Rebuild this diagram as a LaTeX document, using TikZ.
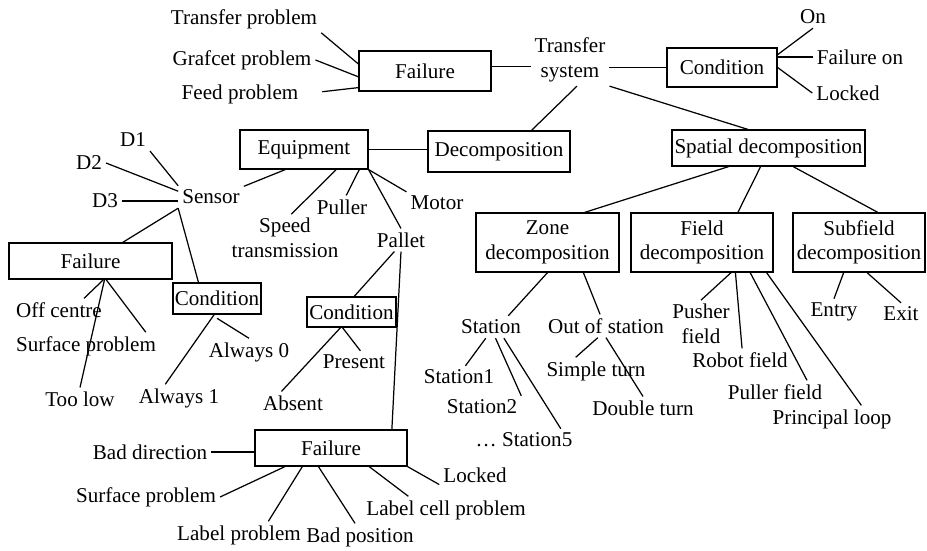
\documentclass[tikz,border=0pt]{standalone}
\usepackage{fontspec}
\setmainfont{Liberation Serif}
\begin{document}
\begin{tikzpicture}[x=0.02cm, y=-0.02cm, line width=0.7pt,
    font=\fontsize{12}{14}\selectfont,
    box/.style={draw, align=center, inner sep=1pt},
    lbl/.style={align=center, inner sep=2pt}]
  \useasboundingbox (0,0) rectangle (927,551);

  % transfer system and its two neighbours
  \node[lbl]  (ts)     at (570, 60)   {Transfer\\system};
  \node[box, minimum width=2.64cm, minimum height=0.80cm] (failT)   at (425, 71)   {Failure};
  \node[box, minimum width=2.20cm, minimum height=0.78cm] (condT)   at (722, 67.5) {Condition};
  \node[lbl]  (tp)     at (244, 19)   {Transfer problem};
  \node[lbl]  (gp)     at (242, 60)   {Grafcet problem};
  \node[lbl]  (fp)     at (240, 94)   {Feed problem};
  \node[lbl]  (on)     at (813, 17)   {On};
  \node[lbl]  (fon)    at (860, 57)   {Failure on};
  \node[lbl]  (lockT)  at (848, 93)   {Locked};

  % equipment branch
  \node[box, minimum width=2.84cm, minimum height=0.82cm] (decomp)  at (499, 151.5) {Decomposition};
  \node[box, minimum width=2.56cm, minimum height=0.78cm] (equip)   at (304, 149.5) {Equipment};
  \node[lbl]  (sensor) at (211, 197)  {Sensor};
  \node[lbl]  (d1)     at (133, 140)  {D1};
  \node[lbl]  (d2)     at ( 89, 163)  {D2};
  \node[lbl]  (d3)     at (105, 201)  {D3};
  \node[lbl]  (speed)  at (285, 238)  {Speed\\transmission};
  \node[lbl]  (puller) at (342, 207)  {Puller};
  \node[lbl]  (motor)  at (437, 203)  {Motor};
  \node[lbl]  (pallet) at (401, 240)  {Pallet};

  \node[box, minimum width=3.26cm, minimum height=0.72cm] (failL)   at ( 90.5, 261)  {Failure};
  \node[box, minimum width=1.76cm, minimum height=0.62cm] (condL)   at (217, 298.5)  {Condition};
  \node[lbl]  (offc)   at ( 59, 310)  {Off centre};
  \node[lbl]  (surfL)  at ( 86, 346)  {Surface problem};
  \node[lbl]  (toolow) at ( 80, 399)  {Too low};
  \node[lbl]  (alw0)   at (249, 352)  {Always 0};
  \node[lbl]  (alw1)   at (179, 398)  {Always 1};

  \node[box, minimum width=1.78cm, minimum height=0.60cm] (condM)   at (351.5, 312) {Condition};
  \node[lbl]  (present) at (354, 362) {Present};
  \node[lbl]  (absent)  at (293, 403) {Absent};

  \node[box, minimum width=3.04cm, minimum height=0.72cm] (failB)   at (331, 448)  {Failure};
  \node[lbl]  (baddir)  at (150, 452) {Bad direction};
  \node[lbl]  (surfB)   at (146, 497) {Surface problem};
  \node[lbl]  (labelp)  at (239, 535) {Label problem};
  \node[lbl]  (badpos)  at (360, 537) {Bad position};
  \node[lbl]  (labelc)  at (446, 510) {Label cell problem};
  \node[lbl]  (lockB)   at (475, 475) {Locked};

  % spatial branch
  \node[box, minimum width=3.86cm, minimum height=0.72cm] (spatial) at (768.5, 148) {Spatial decomposition};
  \node[box, minimum width=2.86cm, minimum height=1.18cm] (zone)    at (547.5, 242.5) {Zone\\decomposition};
  \node[box, minimum width=2.84cm, minimum height=1.18cm] (field)   at (702, 242.5)   {Field\\decomposition};
  \node[box, minimum width=2.64cm, minimum height=1.18cm] (subf)    at (859, 242.5)   {Subfield\\decomposition};
  \node[lbl]  (station) at (491, 327) {Station};
  \node[lbl]  (outst)   at (606, 326) {Out of station};
  \node[lbl]  (st1)     at (459, 377) {Station1};
  \node[lbl]  (st2)     at (482, 407) {Station2};
  \node[lbl]  (st5)     at (524, 440) {… Station5};
  \node[lbl]  (simple)  at (596, 371) {Simple turn};
  \node[lbl]  (double)  at (643, 408) {Double turn};
  \node[lbl]  (pusher)  at (701, 324) {Pusher\\field};
  \node[lbl]  (robot)   at (740, 360) {Robot field};
  \node[lbl]  (pullerf) at (775, 392) {Puller field};
  \node[lbl]  (ploop)   at (832, 419) {Principal loop};
  \node[lbl]  (entry)   at (834, 312) {Entry};
  \node[lbl]  (exit)    at (901, 314) {Exit};

  \draw (tp.south east) -- (failT.174);
  \draw (gp.east) -- (failT.185);
  \draw[shorten <=0.4cm] (fp.east) -- (failT.194);
  \draw (failT.4) -- (ts.west |- failT.4);
  \draw (ts.east |- condT.west) -- (condT.west);
  \draw (condT.13) -- (on.south);
  \draw (condT.east |- fon.west) -- (fon.west);
  \draw (condT.east) -- (lockT.west);

  \draw (ts.-75) -- (decomp.33);
  \draw (ts.south east) -- (spatial.138);
  \draw (equip.east) -- (decomp.west |- equip.east);

  \draw (d1.south east) -- (sensor.north west);
  \draw (d2.east) -- (sensor.170);
  \draw (d3.east) -- (sensor.west |- d3.east);
  \draw (sensor.18) -- (equip.227);
  \draw (sensor.south west) -- (failL.30);
  \draw (sensor.south west) -- (condL.139);
  \draw (failL.-55) -- (offc.25);
  \draw (failL.-50) -- (surfL.13);
  \draw (failL.-53) -- (toolow.north);
  \draw[shorten <=4pt] (condL.-110) -- (alw0.north);
  \draw (condL.-100) -- (alw1.135);

  \draw (equip.-32) -- (speed.75);
  \draw (equip.-20) -- (puller.70);
  \draw (equip.south east) -- (pallet.north);
  \draw (equip.south east) -- (motor.north west);
  \draw (pallet.-120) -- (condM.80);
  \draw (pallet.south) -- (failB.17);
  \draw (condM.-120) -- (present.60);
  \draw (condM.-125) -- (absent.135);

  \draw (baddir.east) -- (failB.west |- baddir.east);
  \draw (failB.202) -- (surfB.east);
  \draw (failB.213) -- (labelp.25);
  \draw (failB.236) -- (badpos.110);
  \draw (failB.-26) -- (labelc.160);
  \draw (failB.south east) -- (lockB.195);

  \draw (spatial.205) -- (zone.39);
  \draw (spatial.247) -- (field.40);
  \draw (spatial.-37) -- (subf.58);
  \draw (zone.south) -- (station.33);
  \draw (zone.-40) -- (outst.117);
  \draw (station.245) -- (st1.60);
  \draw (station.-68) -- (st2.north east);
  \draw (station.-41) -- (st5.17);
  \draw (outst.235) -- (simple.146);
  \draw (outst.south) -- (double.north);
  \draw (field.-46) -- (pusher.north);
  \draw (field.-42) -- (robot.80);
  \draw (field.-32) -- (pullerf.20);
  \draw (field.-25) -- (ploop.25);
  \draw (subf.243) -- (entry.north);
  \draw (subf.-75) -- (exit.north);
\end{tikzpicture}
\end{document}
